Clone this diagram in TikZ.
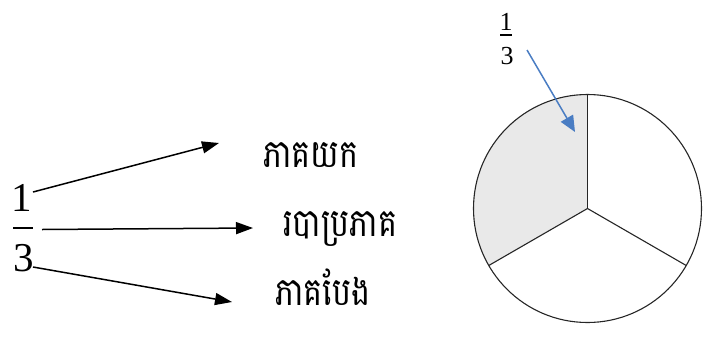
\documentclass[tikz,border=0pt]{standalone}
\usepackage{fontspec}
\usepackage{graphicx}
\setmainfont{Liberation Serif}
\newfontfamily\khmerfont[Script=Khmer]{Battambang}
\usetikzlibrary{arrows.meta}
\definecolor{arrowblue}{HTML}{4A7DC3}
\definecolor{sectorgray}{HTML}{E9E9E9}
\newcommand{\khtall}[1]{\scalebox{1}[1.22]{#1}}
\tikzset{
  digit/.style={inner sep=0pt, font=\fontsize{41}{41}\selectfont},
  smalldigit/.style={inner sep=0pt, font=\fontsize{26}{26}\selectfont},
  khmerlabel/.style={inner sep=0pt, anchor=base west, font=\khmerfont\fontsize{32}{32}\selectfont},
  blackarrow/.style={line width=1.5pt, -{Triangle[length=17pt,width=12pt]}},
  bluearrow/.style={arrowblue, line width=1.5pt, -{Triangle[length=16pt,width=14pt]}},
  pieline/.style={line width=1.1pt, draw=black!85}
}
\begin{document}
\begin{tikzpicture}[x=1pt,y=-1pt]
\useasboundingbox (0,0) rectangle (707,338);
% left fraction
\node[digit] (one) at (22,197.5) {1};
\node[digit] (three) at (24,258.5) {3};
\draw[line width=1.6pt] (13,228) -- (33,228);
\coordinate (s1) at (33,192);
\coordinate (s2) at (42,229.5);
\coordinate (s3) at (33,267);
% labels
\node[khmerlabel] (num) at (263,167) {\khtall{ភាគយក}};
\node[khmerlabel] (bar) at (283,236) {\khtall{របាប្រភាគ}};
\node[khmerlabel] (den) at (275,305) {\khtall{ភាគបែង}};
\coordinate (t1) at (219,143);
\coordinate (t2) at (253,228);
\coordinate (t3) at (232,302);
\draw[blackarrow] (s1) -- (t1);
\draw[blackarrow] (s2) -- (t2);
\draw[blackarrow] (s3) -- (t3);
% pie (y axis points down: 270 = top, 150 = lower left, 30 = lower right)
\coordinate (c) at (587.5,208.5);
\fill[sectorgray] (c) -- ++(150:114) arc[start angle=150,end angle=270,radius=114] -- cycle;
\draw[pieline] (c) circle[radius=114];
\draw[pieline] (c) -- ++(270:114);
\draw[pieline] (c) -- ++(150:114);
\draw[pieline] (c) -- ++(30:114);
% small fraction
\node[smalldigit] (sone) at (506,21.5) {1};
\node[smalldigit] (sthree) at (507,56) {3};
\draw[line width=1.2pt] (500,35) -- (512,35);
\coordinate (bs) at (527,50);
\coordinate (bt) at (575,132);
\draw[bluearrow] (bs) -- (bt);
\end{tikzpicture}
\end{document}
